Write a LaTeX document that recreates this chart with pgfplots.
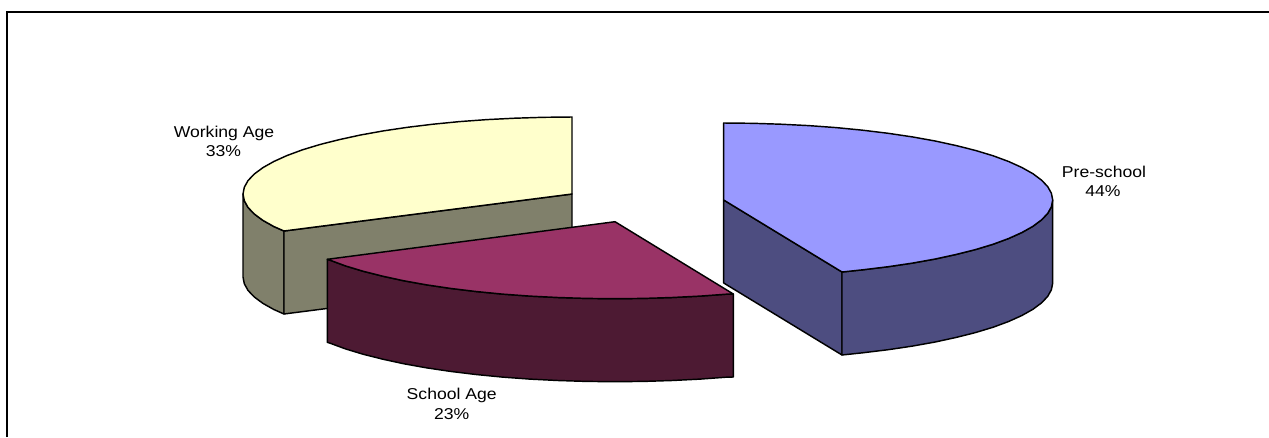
\documentclass[border=0pt]{standalone}
\usepackage{pgfplots}
\pgfplotsset{compat=1.18}
\usepackage{graphicx}
\usepackage{fontspec}
\setmainfont{Liberation Sans}
\definecolor{wtop}{HTML}{FFFFCC}
\definecolor{wside}{HTML}{80806B}
\definecolor{ptop}{HTML}{9999FF}
\definecolor{pside}{HTML}{4D4D80}
\definecolor{stop}{HTML}{993366}
\definecolor{sside}{HTML}{4D1A33}
\newcommand{\lab}[1]{\scalebox{1.12}[1]{\fontsize{15.7}{18}\selectfont #1}}
\begin{document}
\begin{tikzpicture}
\useasboundingbox (0,0) rectangle (1269pt,437pt);
\begin{axis}[
  at={(0,0)},anchor=south west,
  scale only axis,width=1269pt,height=437pt,
  xmin=0,xmax=1269,ymin=0,ymax=437,y dir=reverse,
  hide axis,
  every axis plot/.append style={line join=round,line width=1.45pt,draw=black}
]
% frame
\addplot[line width=2pt,line join=miter] coordinates {(7,437) (7,11.7) (1269,11.7)};
% Working Age: left side
\addplot[fill=wside] coordinates {(243,194) (244.3,200.7) (248,207.4) (254.2,213.9) (262.8,220.3) (273.8,226.5) (284,231) (284,314) (273.8,309.5) (262.8,303.3) (254.2,296.9) (248,290.4) (244.3,283.7) (243,277)} -- cycle;
% Working Age: cut face
\addplot[fill=wside] coordinates {(284,231) (572,194) (572,277) (284,314)} -- cycle;
% Working Age: top
\addplot[fill=wtop] coordinates {(572,117) (543.3,117.3) (514.9,118.2) (486.9,119.6) (459.5,121.6) (433,124.2) (407.5,127.3) (383.3,130.9) (360.5,135) (339.4,139.6) (320,144.5) (302.5,149.8) (287.1,155.5) (273.8,161.5) (262.8,167.7) (254.2,174.1) (248,180.6) (244.3,187.3) (243,194) (244.3,200.7) (248,207.4) (254.2,213.9) (262.8,220.3) (273.8,226.5) (284,231) (572,194)} -- cycle;
% Pre-school: cut face
\addplot[fill=pside] coordinates {(723.7,200) (842,272) (842,355) (723.7,283)} -- cycle;
% Pre-school: outer side
\addplot[fill=pside] coordinates {(1052.7,200) (1051.4,206.7) (1047.7,213.4) (1041.5,219.9) (1032.9,226.3) (1021.9,232.5) (1008.6,238.5) (993.2,244.2) (975.7,249.5) (956.3,254.4) (935.2,259) (912.4,263.1) (888.2,266.7) (862.7,269.8) (842,272) (842,355) (862.7,352.8) (888.2,349.7) (912.4,346.1) (935.2,342) (956.3,337.4) (975.7,332.5) (993.2,327.2) (1008.6,321.5) (1021.9,315.5) (1032.9,309.3) (1041.5,302.9) (1047.7,296.4) (1051.4,289.7) (1052.7,283)} -- cycle;
% Pre-school: top
\addplot[fill=ptop] coordinates {(723.7,123) (752.4,123.3) (780.8,124.2) (808.8,125.6) (836.2,127.6) (862.7,130.2) (888.2,133.3) (912.4,136.9) (935.2,141) (956.3,145.6) (975.7,150.5) (993.2,155.8) (1008.6,161.5) (1021.9,167.5) (1032.9,173.7) (1041.5,180.1) (1047.7,186.6) (1051.4,193.3) (1052.7,200) (1051.4,206.7) (1047.7,213.4) (1041.5,219.9) (1032.9,226.3) (1021.9,232.5) (1008.6,238.5) (993.2,244.2) (975.7,249.5) (956.3,254.4) (935.2,259) (912.4,263.1) (888.2,266.7) (862.7,269.8) (842,272) (723.7,200)} -- cycle;
% School Age: outer side
\addplot[fill=sside] coordinates {(327.3,259.3) (330.1,260.2) (345.5,265.9) (363,271.2) (382.4,276.1) (403.5,280.7) (426.3,284.8) (450.5,288.4) (476,291.5) (502.5,294.1) (529.9,296.1) (557.9,297.5) (586.3,298.4) (615,298.7) (643.7,298.4) (672.1,297.5) (700.1,296.1) (727.5,294.1) (733.3,294) (733.3,377) (727.5,377.1) (700.1,379.1) (672.1,380.5) (643.7,381.4) (615,381.7) (586.3,381.4) (557.9,380.5) (529.9,379.1) (502.5,377.1) (476,374.5) (450.5,371.4) (426.3,367.8) (403.5,363.7) (382.4,359.1) (363,354.2) (345.5,348.9) (330.1,343.2) (327.3,342.3)} -- cycle;
% School Age: top
\addplot[fill=stop] coordinates {(615,221.7) (327.3,259.3) (330.1,260.2) (345.5,265.9) (363,271.2) (382.4,276.1) (403.5,280.7) (426.3,284.8) (450.5,288.4) (476,291.5) (502.5,294.1) (529.9,296.1) (557.9,297.5) (586.3,298.4) (615,298.7) (643.7,298.4) (672.1,297.5) (700.1,296.1) (727.5,294.1) (733.3,294)} -- cycle;
% labels
\node[anchor=base,inner sep=0pt] at (axis cs:224,137.6) {\lab{Working Age}};
\node[anchor=base,inner sep=0pt] at (axis cs:223.5,156.4) {\lab{33\%}};
\node[anchor=base,inner sep=0pt] at (axis cs:1104,177.3) {\lab{Pre-school}};
\node[anchor=base,inner sep=0pt] at (axis cs:1103,196.4) {\lab{44\%}};
\node[anchor=base,inner sep=0pt] at (axis cs:451.7,399.3) {\lab{School Age}};
\node[anchor=base,inner sep=0pt] at (axis cs:451.7,419) {\lab{23\%}};
\end{axis}
\end{tikzpicture}
\end{document}
